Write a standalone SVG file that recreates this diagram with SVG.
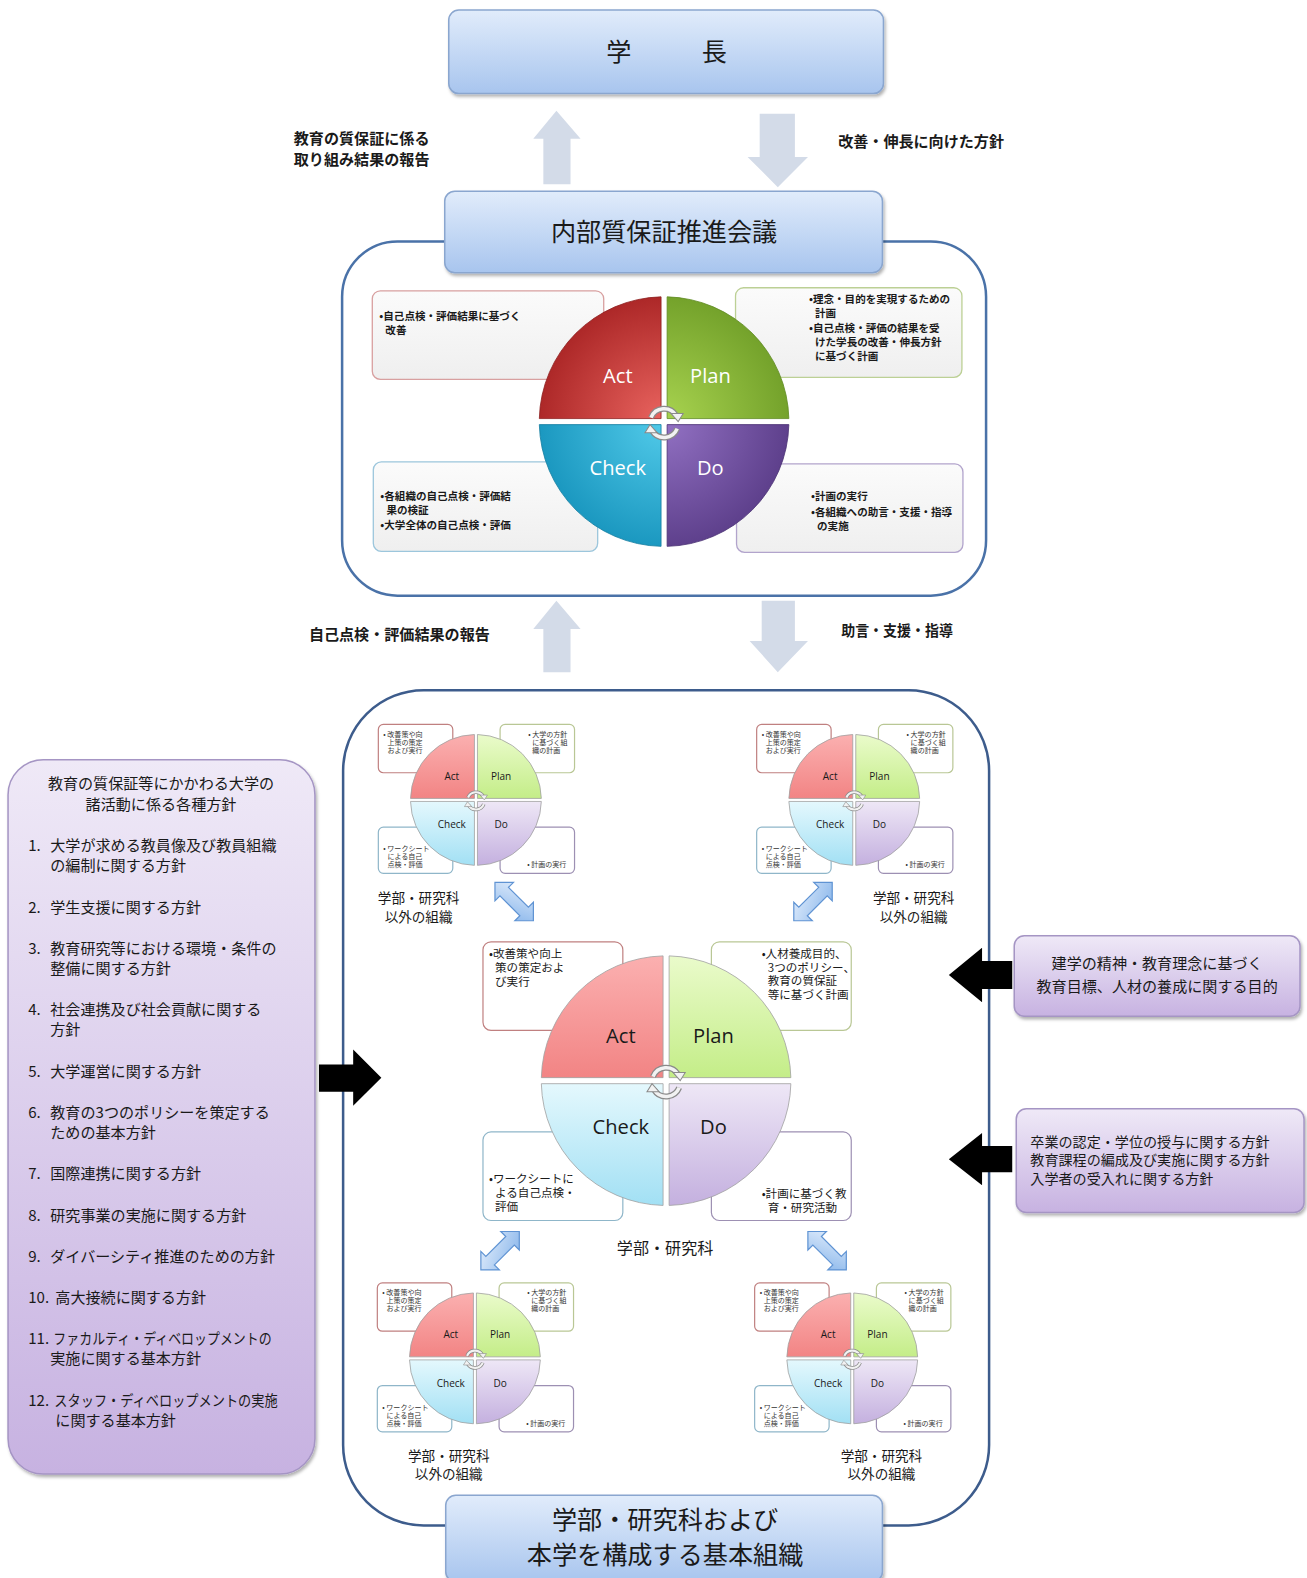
<svg xmlns="http://www.w3.org/2000/svg" width="1307" height="1578" viewBox="0 0 1307 1578">
<defs>
<style>
text{font-family:"Noto Sans CJK JP","Noto Sans",sans-serif;fill:#1a1a1a}
.b{font-weight:700}
.lab{font-size:15px;font-weight:700}
.ttl{font-size:25px}
.ub{font-size:10.5px;font-weight:700}
.lb{font-size:11.5px}
.st{font-size:7px;fill:#333}
.sl{font-size:10px;font-family:"Open Sans","Noto Sans",sans-serif;text-anchor:middle}
.bl{font-size:20px;font-family:"Open Sans","Noto Sans",sans-serif;text-anchor:middle}
.wl{fill:#fff}
.org{font-size:13.5px;text-anchor:middle}
.lp{font-size:15px}
.blue{fill:url(#gBlue);stroke:#8aa6cf;stroke-width:1.5}
.lav{fill:url(#gLav);stroke:#a595c4;stroke-width:1.5}
.hol{fill:#d3dbe8}
.blk{fill:#000}
.dbl{fill:url(#gDbl);stroke:#5f93d3;stroke-width:1.2}
.ubox{fill:url(#gGray);stroke-width:1.3}
.lbox{fill:#fff;stroke-width:1.2}
.rA{stroke:#d8a0a0}.rP{stroke:#bcd095}.rC{stroke:#9cc6dc}.rD{stroke:#b2a4cc}
.qA{fill:url(#lA)}.qP{fill:url(#lP)}.qC{fill:url(#lC)}.qD{fill:url(#lD)}
.edge{stroke:#a0a0a0;stroke-width:0.8}
.ca1{fill:none;stroke:#8a8a8a;stroke-width:6}
.ca2{fill:none;stroke:#f2f2f2;stroke-width:3.5}
.cah{fill:#f2f2f2;stroke:#8a8a8a;stroke-width:1}
</style>
<filter id="sh" x="-10%" y="-10%" width="125%" height="140%"><feDropShadow dx="1.5" dy="2.5" stdDeviation="1.6" flood-color="#000" flood-opacity="0.3"/></filter>
<linearGradient id="gBlue" x1="0" y1="0" x2="0" y2="1"><stop offset="0" stop-color="#e1ecfb"/><stop offset="1" stop-color="#a8c5ee"/></linearGradient>
<linearGradient id="gLav" x1="0" y1="0" x2="0" y2="1"><stop offset="0" stop-color="#efe9f7"/><stop offset="1" stop-color="#c7b2e1"/></linearGradient>
<linearGradient id="gGray" x1="0" y1="0" x2="0" y2="1"><stop offset="0" stop-color="#fbfbfb"/><stop offset="1" stop-color="#efefef"/></linearGradient>
<linearGradient id="gDbl" x1="0" y1="0" x2="1" y2="1"><stop offset="0" stop-color="#e3eefc"/><stop offset="1" stop-color="#86b4ea"/></linearGradient>
<radialGradient id="uA" gradientUnits="userSpaceOnUse" cx="0" cy="0" r="124"><stop offset="0" stop-color="#ea6560"/><stop offset="1" stop-color="#ad2828"/></radialGradient>
<radialGradient id="uP" gradientUnits="userSpaceOnUse" cx="0" cy="0" r="124"><stop offset="0" stop-color="#a9d450"/><stop offset="1" stop-color="#74a22b"/></radialGradient>
<radialGradient id="uC" gradientUnits="userSpaceOnUse" cx="0" cy="0" r="124"><stop offset="0" stop-color="#52cbea"/><stop offset="1" stop-color="#1b98c0"/></radialGradient>
<radialGradient id="uD" gradientUnits="userSpaceOnUse" cx="0" cy="0" r="124"><stop offset="0" stop-color="#9372c4"/><stop offset="1" stop-color="#5e408c"/></radialGradient>
<linearGradient id="lA" x1="0" y1="0" x2="0" y2="1"><stop offset="0" stop-color="#fbb0b0"/><stop offset="1" stop-color="#f28484"/></linearGradient>
<linearGradient id="lP" x1="0" y1="0" x2="0" y2="1"><stop offset="0" stop-color="#eafbcb"/><stop offset="1" stop-color="#c4ed88"/></linearGradient>
<linearGradient id="lC" x1="0" y1="0" x2="0" y2="1"><stop offset="0" stop-color="#e4f8fd"/><stop offset="1" stop-color="#a2e0f4"/></linearGradient>
<linearGradient id="lD" x1="0" y1="0" x2="0" y2="1"><stop offset="0" stop-color="#eee7f6"/><stop offset="1" stop-color="#c4b0df"/></linearGradient>
</defs>
<rect width="1307" height="1578" fill="#fff"/>
<g transform="scale(1.0062)">

<!-- containers -->
<g id="upper-container"><rect x="340" y="240" width="640" height="352" rx="55" fill="#fff" stroke="#4a72a8" stroke-width="2.5"/></g>
<g id="lower-container"><rect x="341" y="686" width="642" height="830" rx="80" fill="none" stroke="#3d5c8c" stroke-width="2.5"/></g>

<!-- connectors -->
<g id="connectors">
<polygon class="hol" points="553,110 577,138 567,138 567,183 540,183 540,138 530,138"/>
<polygon class="hol" points="755,113 790,113 790,156 803,156 773,186 743,156 755,156"/>
<polygon class="hol" points="553,597 577,625 567,625 567,668 540,668 540,625 530,625"/>
<polygon class="hol" points="757,597 790,597 790,637 803,637 773,668 745,637 757,637"/>
<polygon class="blk" points="317,1058 351,1058 351,1043 379,1071 351,1099 351,1085 317,1085"/>
<polygon class="blk" points="1006,955 976,955 976,942 943,969 976,996 976,983 1006,983"/>
<polygon class="blk" points="1006,1139 976,1139 976,1126 943,1152 976,1178 976,1165 1006,1165"/>
<polygon class="dbl" transform="translate(511,896) rotate(45)" points="-27,0 -14,-13 -14,-6 14,-6 14,-13 27,0 14,13 14,6 -14,6 -14,13"/>
<polygon class="dbl" transform="translate(808,896) rotate(-45)" points="-27,0 -14,-13 -14,-6 14,-6 14,-13 27,0 14,13 14,6 -14,6 -14,13"/>
<polygon class="dbl" transform="translate(497,1243) rotate(-45)" points="-27,0 -14,-13 -14,-6 14,-6 14,-13 27,0 14,13 14,6 -14,6 -14,13"/>
<polygon class="dbl" transform="translate(822,1243) rotate(45)" points="-27,0 -14,-13 -14,-6 14,-6 14,-13 27,0 14,13 14,6 -14,6 -14,13"/>
</g>

<!-- arrow labels -->
<g id="labels">
<text class="lab" x="292" y="143.5">教育の質保証に係る</text>
<text class="lab" x="292" y="163.5">取り組み結果の報告</text>
<text class="lab" x="833" y="146.5">改善・伸長に向けた方針</text>
<text class="lab" x="307" y="636.5">自己点検・評価結果の報告</text>
<text class="lab" x="836" y="632.5" textLength="111" lengthAdjust="spacingAndGlyphs">助言・支援・指導</text>
</g>

<!-- top boxes -->
<g id="president"><rect class="blue" filter="url(#sh)" x="446" y="10" width="432" height="83" rx="10"/>
<text class="ttl" x="615" y="61" text-anchor="middle">学</text><text class="ttl" x="710" y="61" text-anchor="middle">長</text></g>
<g id="council"><rect class="blue" filter="url(#sh)" x="442" y="190" width="435" height="81" rx="10"/>
<text class="ttl" x="660" y="240" text-anchor="middle">内部質保証推進会議</text></g>

<!-- upper PDCA -->
<g id="upper-pdca">
<rect class="ubox rA" x="370" y="289" width="230" height="88" rx="8"/>
<rect class="ubox rP" x="731" y="286" width="225" height="89" rx="8"/>
<rect class="ubox rC" x="371" y="459" width="223" height="89" rx="8"/>
<rect class="ubox rD" x="732" y="461" width="225" height="88" rx="8"/>
<text class="ub" x="377" y="318">•自己点検・評価結果に基づく</text>
<text class="ub" x="383" y="332">改善</text>
<text class="ub" x="804" y="301">•理念・目的を実現するための</text>
<text class="ub" x="810" y="315">計画</text>
<text class="ub" x="804" y="330">•自己点検・評価の結果を受</text>
<text class="ub" x="810" y="344">けた学長の改善・伸長方針</text>
<text class="ub" x="810" y="358">に基づく計画</text>
<text class="ub" x="378" y="497">•各組織の自己点検・評価結</text>
<text class="ub" x="384" y="511">果の検証</text>
<text class="ub" x="378" y="526">•大学全体の自己点検・評価</text>
<text class="ub" x="806" y="497">•計画の実行</text>
<text class="ub" x="806" y="513">•各組織への助言・支援・指導</text>
<text class="ub" x="812" y="527">の実施</text>
<g transform="translate(660,419)">
<path fill="url(#uA)" stroke="#8e2020" stroke-width="0.8" d="M-3,-3 L-3,-124 A124,124 0 0 0 -124,-3 Z"/>
<path fill="url(#uP)" stroke="#5e8a22" stroke-width="0.8" d="M3,-3 L124,-3 A124,124 0 0 0 3,-124 Z"/>
<path fill="url(#uD)" stroke="#4b3274" stroke-width="0.8" d="M3,3 L3,124 A124,124 0 0 0 124,3 Z"/>
<path fill="url(#uC)" stroke="#157ea0" stroke-width="0.8" d="M-3,3 L-124,3 A124,124 0 0 0 -3,124 Z"/>
<text class="bl wl" x="-46" y="-38">Act</text>
<text class="bl wl" x="46" y="-38">Plan</text>
<text class="bl wl" x="-46" y="53">Check</text>
<text class="bl wl" x="46" y="53">Do</text>
<path class="ca1" d="M-13,-4 A14,14 0 0 1 12,-6"/><path class="ca2" d="M-13,-4 A14,14 0 0 1 12,-6"/>
<polygon class="cah" points="7,-8 19,-8 14,0"/>
<path class="ca1" d="M13,7 A14,14 0 0 1 -12,9"/><path class="ca2" d="M13,7 A14,14 0 0 1 -12,9"/>
<polygon class="cah" points="-7,11 -19,11 -14,3"/>
</g>
</g>

<!-- central lower PDCA -->
<g id="faculty-pdca">
<rect class="lbox rA" x="480" y="936" width="139" height="88" rx="8" style="stroke:#c08080"/>
<rect class="lbox rP" x="707" y="936" width="139" height="88" rx="8" style="stroke:#b9c795"/>
<rect class="lbox rC" x="480" y="1125" width="139" height="88" rx="8" style="stroke:#8fb6c9"/>
<rect class="lbox rD" x="707" y="1125" width="139" height="88" rx="8" style="stroke:#9d90b3"/>
<text class="lb" x="486" y="952">•改善策や向上</text>
<text class="lb" x="492" y="966">策の策定およ</text>
<text class="lb" x="492" y="980">び実行</text>
<text class="lb" x="757" y="952">•人材養成目的、</text>
<text class="lb" x="763" y="966">3つのポリシー、</text>
<text class="lb" x="763" y="979">教育の質保証</text>
<text class="lb" x="763" y="993">等に基づく計画</text>
<text class="lb" x="486" y="1176">•ワークシートに</text>
<text class="lb" x="492" y="1190">よる自己点検・</text>
<text class="lb" x="492" y="1204">評価</text>
<text class="lb" x="757" y="1191">•計画に基づく教</text>
<text class="lb" x="763" y="1205">育・研究活動</text>
<g transform="translate(662,1074)">
<path class="qA edge" d="M-3,-3 L-3,-124 A124,124 0 0 0 -124,-3 Z"/>
<path class="qP edge" d="M3,-3 L124,-3 A124,124 0 0 0 3,-124 Z"/>
<path class="qD edge" d="M3,3 L3,124 A124,124 0 0 0 124,3 Z"/>
<path class="qC edge" d="M-3,3 L-124,3 A124,124 0 0 0 -3,124 Z"/>
<text class="bl" x="-45" y="-37">Act</text>
<text class="bl" x="47" y="-37">Plan</text>
<text class="bl" x="-45" y="53">Check</text>
<text class="bl" x="47" y="53">Do</text>
<path class="ca1" d="M-13,-4 A14,14 0 0 1 12,-6"/><path class="ca2" d="M-13,-4 A14,14 0 0 1 12,-6"/>
<polygon class="cah" points="7,-8 19,-8 14,0"/>
<path class="ca1" d="M13,7 A14,14 0 0 1 -12,9"/><path class="ca2" d="M13,7 A14,14 0 0 1 -12,9"/>
<polygon class="cah" points="-7,11 -19,11 -14,3"/>
</g>
<text x="661" y="1246" font-size="16" text-anchor="middle">学部・研究科</text>
</g>

<!-- small PDCA: top-left -->
<g id="org-tl">
<g transform="translate(473,795)">
<rect class="lbox" x="-97" y="-75" width="74" height="48" rx="5" style="stroke:#c08080"/>
<rect class="lbox" x="24" y="-75" width="74" height="48" rx="5" style="stroke:#b9c795"/>
<rect class="lbox" x="-97" y="27" width="74" height="46" rx="5" style="stroke:#8fb6c9"/>
<rect class="lbox" x="24" y="27" width="74" height="46" rx="5" style="stroke:#9d90b3"/>
<text class="st" x="-92" y="-63">• 改善策や向</text><text class="st" x="-88" y="-55">上策の策定</text><text class="st" x="-88" y="-47">および実行</text>
<text class="st" x="52" y="-63">• 大学の方針</text><text class="st" x="56" y="-55">に基づく組</text><text class="st" x="56" y="-47">織の計画</text>
<text class="st" x="-92" y="51">• ワークシート</text><text class="st" x="-88" y="59">による自己</text><text class="st" x="-88" y="67">点検・評価</text>
<text class="st" x="51" y="67">• 計画の実行</text>
<path class="qA edge" d="M-1.5,-1.5 L-1.5,-65 A65,65 0 0 0 -65,-1.5 Z"/>
<path class="qP edge" d="M1.5,-1.5 L65,-1.5 A65,65 0 0 0 1.5,-65 Z"/>
<path class="qD edge" d="M1.5,1.5 L1.5,65 A65,65 0 0 0 65,1.5 Z"/>
<path class="qC edge" d="M-1.5,1.5 L-65,1.5 A65,65 0 0 0 -1.5,65 Z"/>
<text class="sl" x="-24" y="-20">Act</text><text class="sl" x="25" y="-20">Plan</text>
<text class="sl" x="-24" y="28">Check</text><text class="sl" x="25" y="28">Do</text>
<g transform="scale(0.6)">
<path class="ca1" d="M-13,-4 A14,14 0 0 1 12,-6"/><path class="ca2" d="M-13,-4 A14,14 0 0 1 12,-6"/>
<polygon class="cah" points="7,-8 19,-8 14,0"/>
<path class="ca1" d="M13,7 A14,14 0 0 1 -12,9"/><path class="ca2" d="M13,7 A14,14 0 0 1 -12,9"/>
<polygon class="cah" points="-7,11 -19,11 -14,3"/>
</g>
</g>
<text class="org" x="416" y="897">学部・研究科</text>
<text class="org" x="416" y="916">以外の組織</text>
</g>

<!-- small PDCA: top-right -->
<g id="org-tr">
<g transform="translate(849,795)">
<rect class="lbox" x="-97" y="-75" width="74" height="48" rx="5" style="stroke:#c08080"/>
<rect class="lbox" x="24" y="-75" width="74" height="48" rx="5" style="stroke:#b9c795"/>
<rect class="lbox" x="-97" y="27" width="74" height="46" rx="5" style="stroke:#8fb6c9"/>
<rect class="lbox" x="24" y="27" width="74" height="46" rx="5" style="stroke:#9d90b3"/>
<text class="st" x="-92" y="-63">• 改善策や向</text><text class="st" x="-88" y="-55">上策の策定</text><text class="st" x="-88" y="-47">および実行</text>
<text class="st" x="52" y="-63">• 大学の方針</text><text class="st" x="56" y="-55">に基づく組</text><text class="st" x="56" y="-47">織の計画</text>
<text class="st" x="-92" y="51">• ワークシート</text><text class="st" x="-88" y="59">による自己</text><text class="st" x="-88" y="67">点検・評価</text>
<text class="st" x="51" y="67">• 計画の実行</text>
<path class="qA edge" d="M-1.5,-1.5 L-1.5,-65 A65,65 0 0 0 -65,-1.5 Z"/>
<path class="qP edge" d="M1.5,-1.5 L65,-1.5 A65,65 0 0 0 1.5,-65 Z"/>
<path class="qD edge" d="M1.5,1.5 L1.5,65 A65,65 0 0 0 65,1.5 Z"/>
<path class="qC edge" d="M-1.5,1.5 L-65,1.5 A65,65 0 0 0 -1.5,65 Z"/>
<text class="sl" x="-24" y="-20">Act</text><text class="sl" x="25" y="-20">Plan</text>
<text class="sl" x="-24" y="28">Check</text><text class="sl" x="25" y="28">Do</text>
<g transform="scale(0.6)">
<path class="ca1" d="M-13,-4 A14,14 0 0 1 12,-6"/><path class="ca2" d="M-13,-4 A14,14 0 0 1 12,-6"/>
<polygon class="cah" points="7,-8 19,-8 14,0"/>
<path class="ca1" d="M13,7 A14,14 0 0 1 -12,9"/><path class="ca2" d="M13,7 A14,14 0 0 1 -12,9"/>
<polygon class="cah" points="-7,11 -19,11 -14,3"/>
</g>
</g>
<text class="org" x="908" y="897">学部・研究科</text>
<text class="org" x="908" y="916">以外の組織</text>
</g>

<!-- small PDCA: bottom-left -->
<g id="org-bl">
<g transform="translate(472,1350)">
<rect class="lbox" x="-97" y="-75" width="74" height="48" rx="5" style="stroke:#c08080"/>
<rect class="lbox" x="24" y="-75" width="74" height="48" rx="5" style="stroke:#b9c795"/>
<rect class="lbox" x="-97" y="27" width="74" height="46" rx="5" style="stroke:#8fb6c9"/>
<rect class="lbox" x="24" y="27" width="74" height="46" rx="5" style="stroke:#9d90b3"/>
<text class="st" x="-92" y="-63">• 改善策や向</text><text class="st" x="-88" y="-55">上策の策定</text><text class="st" x="-88" y="-47">および実行</text>
<text class="st" x="52" y="-63">• 大学の方針</text><text class="st" x="56" y="-55">に基づく組</text><text class="st" x="56" y="-47">織の計画</text>
<text class="st" x="-92" y="51">• ワークシート</text><text class="st" x="-88" y="59">による自己</text><text class="st" x="-88" y="67">点検・評価</text>
<text class="st" x="51" y="67">• 計画の実行</text>
<path class="qA edge" d="M-1.5,-1.5 L-1.5,-65 A65,65 0 0 0 -65,-1.5 Z"/>
<path class="qP edge" d="M1.5,-1.5 L65,-1.5 A65,65 0 0 0 1.5,-65 Z"/>
<path class="qD edge" d="M1.5,1.5 L1.5,65 A65,65 0 0 0 65,1.5 Z"/>
<path class="qC edge" d="M-1.5,1.5 L-65,1.5 A65,65 0 0 0 -1.5,65 Z"/>
<text class="sl" x="-24" y="-20">Act</text><text class="sl" x="25" y="-20">Plan</text>
<text class="sl" x="-24" y="28">Check</text><text class="sl" x="25" y="28">Do</text>
<g transform="scale(0.6)">
<path class="ca1" d="M-13,-4 A14,14 0 0 1 12,-6"/><path class="ca2" d="M-13,-4 A14,14 0 0 1 12,-6"/>
<polygon class="cah" points="7,-8 19,-8 14,0"/>
<path class="ca1" d="M13,7 A14,14 0 0 1 -12,9"/><path class="ca2" d="M13,7 A14,14 0 0 1 -12,9"/>
<polygon class="cah" points="-7,11 -19,11 -14,3"/>
</g>
</g>
<text class="org" x="446" y="1452">学部・研究科</text>
<text class="org" x="446" y="1470">以外の組織</text>
</g>

<!-- small PDCA: bottom-right -->
<g id="org-br">
<g transform="translate(847,1350)">
<rect class="lbox" x="-97" y="-75" width="74" height="48" rx="5" style="stroke:#c08080"/>
<rect class="lbox" x="24" y="-75" width="74" height="48" rx="5" style="stroke:#b9c795"/>
<rect class="lbox" x="-97" y="27" width="74" height="46" rx="5" style="stroke:#8fb6c9"/>
<rect class="lbox" x="24" y="27" width="74" height="46" rx="5" style="stroke:#9d90b3"/>
<text class="st" x="-92" y="-63">• 改善策や向</text><text class="st" x="-88" y="-55">上策の策定</text><text class="st" x="-88" y="-47">および実行</text>
<text class="st" x="52" y="-63">• 大学の方針</text><text class="st" x="56" y="-55">に基づく組</text><text class="st" x="56" y="-47">織の計画</text>
<text class="st" x="-92" y="51">• ワークシート</text><text class="st" x="-88" y="59">による自己</text><text class="st" x="-88" y="67">点検・評価</text>
<text class="st" x="51" y="67">• 計画の実行</text>
<path class="qA edge" d="M-1.5,-1.5 L-1.5,-65 A65,65 0 0 0 -65,-1.5 Z"/>
<path class="qP edge" d="M1.5,-1.5 L65,-1.5 A65,65 0 0 0 1.5,-65 Z"/>
<path class="qD edge" d="M1.5,1.5 L1.5,65 A65,65 0 0 0 65,1.5 Z"/>
<path class="qC edge" d="M-1.5,1.5 L-65,1.5 A65,65 0 0 0 -1.5,65 Z"/>
<text class="sl" x="-24" y="-20">Act</text><text class="sl" x="25" y="-20">Plan</text>
<text class="sl" x="-24" y="28">Check</text><text class="sl" x="25" y="28">Do</text>
<g transform="scale(0.6)">
<path class="ca1" d="M-13,-4 A14,14 0 0 1 12,-6"/><path class="ca2" d="M-13,-4 A14,14 0 0 1 12,-6"/>
<polygon class="cah" points="7,-8 19,-8 14,0"/>
<path class="ca1" d="M13,7 A14,14 0 0 1 -12,9"/><path class="ca2" d="M13,7 A14,14 0 0 1 -12,9"/>
<polygon class="cah" points="-7,11 -19,11 -14,3"/>
</g>
</g>
<text class="org" x="876" y="1452">学部・研究科</text>
<text class="org" x="876" y="1470">以外の組織</text>
</g>

<!-- bottom box -->
<g id="basic-org"><rect class="blue" filter="url(#sh)" x="443" y="1486" width="434" height="86" rx="10"/>
<text class="ttl" x="661" y="1520" text-anchor="middle">学部・研究科および</text>
<text class="ttl" x="661" y="1554" text-anchor="middle">本学を構成する基本組織</text></g>

<!-- left panel -->
<g id="policies">
<rect class="lav" filter="url(#sh)" x="8" y="755" width="305" height="710" rx="35"/>
<text class="lp" x="160" y="784" text-anchor="middle">教育の質保証等にかかわる大学の</text>
<text class="lp" x="160" y="805" text-anchor="middle">諸活動に係る各種方針</text>
<text class="lp" x="28" y="846">1.</text><text class="lp" x="50" y="846">大学が求める教員像及び教員組織</text>
<text class="lp" x="50" y="866">の編制に関する方針</text>
<text class="lp" x="28" y="907">2.</text><text class="lp" x="50" y="907">学生支援に関する方針</text>
<text class="lp" x="28" y="948">3.</text><text class="lp" x="50" y="948">教育研究等における環境・条件の</text>
<text class="lp" x="50" y="968">整備に関する方針</text>
<text class="lp" x="28" y="1009">4.</text><text class="lp" x="50" y="1009">社会連携及び社会貢献に関する</text>
<text class="lp" x="50" y="1029">方針</text>
<text class="lp" x="28" y="1070">5.</text><text class="lp" x="50" y="1070">大学運営に関する方針</text>
<text class="lp" x="28" y="1111">6.</text><text class="lp" x="50" y="1111">教育の3つのポリシーを策定する</text>
<text class="lp" x="50" y="1131">ための基本方針</text>
<text class="lp" x="28" y="1172">7.</text><text class="lp" x="50" y="1172">国際連携に関する方針</text>
<text class="lp" x="28" y="1213">8.</text><text class="lp" x="50" y="1213">研究事業の実施に関する方針</text>
<text class="lp" x="28" y="1254">9.</text><text class="lp" x="50" y="1254">ダイバーシティ推進のための方針</text>
<text class="lp" x="28" y="1295">10.</text><text class="lp" x="55" y="1295">高大接続に関する方針</text>
<text class="lp" x="28" y="1336">11.</text><text class="lp" x="53" y="1336" textLength="217" lengthAdjust="spacingAndGlyphs">ファカルティ・ディベロップメントの</text>
<text class="lp" x="50" y="1356">実施に関する基本方針</text>
<text class="lp" x="28" y="1397">12.</text><text class="lp" x="54" y="1397" textLength="222" lengthAdjust="spacingAndGlyphs">スタッフ・ディベロップメントの実施</text>
<text class="lp" x="55" y="1417">に関する基本方針</text>
</g>

<!-- right boxes -->
<g id="mission">
<rect class="lav" filter="url(#sh)" x="1008" y="930" width="284" height="80" rx="10"/>
<text x="1150" y="963.5" font-size="15" text-anchor="middle">建学の精神・教育理念に基づく</text>
<text x="1150" y="985.5" font-size="15" text-anchor="middle">教育目標、人材の養成に関する目的</text>
</g>
<g id="three-policies">
<rect class="lav" filter="url(#sh)" x="1010" y="1102" width="286" height="103" rx="10"/>
<text x="1024" y="1140" font-size="14">卒業の認定・学位の授与に関する方針</text>
<text x="1024" y="1158" font-size="14">教育課程の編成及び実施に関する方針</text>
<text x="1024" y="1177" font-size="14">入学者の受入れに関する方針</text>
</g>

</g>
</svg>
